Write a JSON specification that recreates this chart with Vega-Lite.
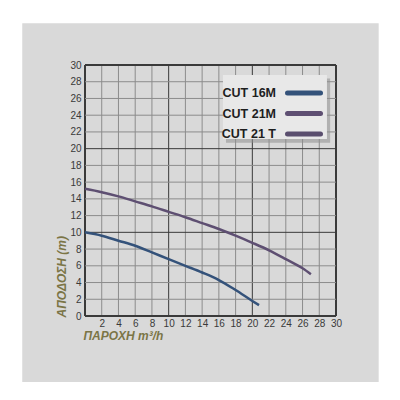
{
  "$schema": "https://vega.github.io/schema/vega-lite/v6.json",
  "width": 251,
  "height": 251,
  "autosize": {"type": "none"},
  "padding": {"left": 85, "top": 65, "right": 64, "bottom": 84},
  "background": "white",
  "datasets": {
    "grid": [
      {"v": 0}, {"v": 2}, {"v": 4}, {"v": 6}, {"v": 8}, {"v": 10}, {"v": 12}, {"v": 14},
      {"v": 16}, {"v": 18}, {"v": 20}, {"v": 22}, {"v": 24}, {"v": 26}, {"v": 28}, {"v": 30}
    ],
    "curves": [
      {"model": "CUT 16M", "q": 0, "h": 10.0},
      {"model": "CUT 16M", "q": 2, "h": 9.6},
      {"model": "CUT 16M", "q": 4, "h": 9.0},
      {"model": "CUT 16M", "q": 6, "h": 8.4},
      {"model": "CUT 16M", "q": 8, "h": 7.6},
      {"model": "CUT 16M", "q": 10, "h": 6.8},
      {"model": "CUT 16M", "q": 12, "h": 6.0},
      {"model": "CUT 16M", "q": 14, "h": 5.2},
      {"model": "CUT 16M", "q": 16, "h": 4.3},
      {"model": "CUT 16M", "q": 18, "h": 3.1},
      {"model": "CUT 16M", "q": 20, "h": 1.8},
      {"model": "CUT 16M", "q": 20.8, "h": 1.3},
      {"model": "CUT 21M", "q": 0, "h": 15.2},
      {"model": "CUT 21M", "q": 2, "h": 14.8},
      {"model": "CUT 21M", "q": 4, "h": 14.3},
      {"model": "CUT 21M", "q": 6, "h": 13.7},
      {"model": "CUT 21M", "q": 8, "h": 13.1},
      {"model": "CUT 21M", "q": 10, "h": 12.45},
      {"model": "CUT 21M", "q": 12, "h": 11.8},
      {"model": "CUT 21M", "q": 14, "h": 11.1},
      {"model": "CUT 21M", "q": 16, "h": 10.4},
      {"model": "CUT 21M", "q": 18, "h": 9.6},
      {"model": "CUT 21M", "q": 20, "h": 8.75},
      {"model": "CUT 21M", "q": 22, "h": 7.85},
      {"model": "CUT 21M", "q": 24, "h": 6.8},
      {"model": "CUT 21M", "q": 26, "h": 5.7},
      {"model": "CUT 21M", "q": 27, "h": 5.0}
    ]
  },
  "layer": [
    {
      "data": {"values": [{}]},
      "mark": {"type": "rect", "fill": "#d9d9d9", "clip": false},
      "encoding": {
        "x": {
          "datum": -7.5,
          "type": "quantitative",
          "scale": {"domain": [0, 30], "nice": false},
          "axis": {
            "values": [2, 4, 6, 8, 10, 12, 14, 16, 18, 20, 22, 24, 26, 28, 30],
            "tickCount": 40,
            "grid": false,
            "domain": false,
            "ticks": false,
            "zindex": 1,
            "labelOverlap": false,
            "labelFlush": false,
            "labelPadding": 2,
            "labelFontSize": 10,
            "encode": {"labels": {"update": {"fontSize": {"signal": "datum.value % 10 == 0 ? 13 : 10"}}}},
            "title": "ΠΑΡΟΧΗ m³/h",
            "titleAnchor": "start",
            "titleAlign": "left",
            "titleX": -2,
            "titleY": 14
          }
        },
        "x2": {"datum": 35.1},
        "y": {
          "datum": 35.0,
          "type": "quantitative",
          "scale": {"domain": [0, 30], "nice": false},
          "axis": {
            "values": [0, 2, 4, 6, 8, 10, 12, 14, 16, 18, 20, 22, 24, 26, 28, 30],
            "tickCount": 40,
            "grid": false,
            "domain": false,
            "ticks": false,
            "zindex": 1,
            "labelOverlap": false,
            "labelFlush": false,
            "labelPadding": 4,
            "labelFontSize": 10,
            "encode": {"labels": {"update": {"fontSize": {"signal": "datum.value % 10 == 0 ? 13 : 10"}}}},
            "title": "ΑΠΟΔΟΣΗ (m)",
            "titleAngle": 270,
            "titleAlign": "left",
            "titleBaseline": "middle",
            "titleX": -24,
            "titleY": 252
          }
        },
        "y2": {"datum": -7.9}
      }
    },
    {
      "data": {"name": "grid"},
      "mark": {"type": "rule"},
      "encoding": {
        "x": {"field": "v", "type": "quantitative"},
        "color": {"condition": {"test": "datum.v % 10 == 0", "value": "#3a3a3a"}, "value": "#8c8c8c"},
        "strokeWidth": {"condition": {"test": "datum.v == 0 || datum.v == 30", "value": 2}, "value": 1}
      }
    },
    {
      "data": {"name": "grid"},
      "mark": {"type": "rule"},
      "encoding": {
        "y": {"field": "v", "type": "quantitative"},
        "color": {"condition": {"test": "datum.v % 10 == 0", "value": "#3a3a3a"}, "value": "#8c8c8c"},
        "strokeWidth": {"condition": {"test": "datum.v == 0 || datum.v == 30", "value": 2}, "value": 1}
      }
    },
    {
      "data": {"values": [{}]},
      "mark": {"type": "rect", "fill": "#8f8f8f", "opacity": 0.55},
      "encoding": {
        "x": {"datum": 16.85, "type": "quantitative"},
        "x2": {"datum": 29.3},
        "y": {"datum": 28.4, "type": "quantitative"},
        "y2": {"datum": 20.7}
      }
    },
    {
      "data": {"values": [{}]},
      "mark": {"type": "rect", "fill": "#e8e8e8"},
      "encoding": {
        "x": {"datum": 16.49, "type": "quantitative"},
        "x2": {"datum": 28.92},
        "y": {"datum": 28.8, "type": "quantitative"},
        "y2": {"datum": 21.15}
      }
    },
    {
      "data": {"name": "curves"},
      "mark": {"type": "line", "interpolate": "monotone", "strokeWidth": 2.5},
      "encoding": {
        "x": {"field": "q", "type": "quantitative"},
        "y": {"field": "h", "type": "quantitative"},
        "color": {
          "field": "model",
          "type": "nominal",
          "scale": {
            "domain": ["CUT 16M", "CUT 21M", "CUT 21 T"],
            "range": ["#34527a", "#5e4f72", "#5a4e6e"]
          },
          "legend": {
            "orient": "none",
            "legendX": 144,
            "legendY": 18,
            "title": null,
            "padding": 0,
            "symbolType": "M-2.2,0H2.2",
            "symbolSize": 225,
            "symbolStrokeWidth": 5,
            "symbolOffset": 65,
            "labelOffset": -38,
            "labelAlign": "right",
            "labelFont": "Liberation Sans",
            "labelFontWeight": "bold",
            "labelFontSize": 12.5,
            "labelColor": "#1e1e1e",
            "rowPadding": 0.5,
            "encode": {"symbols": {"update": {"strokeCap": {"value": "round"}}}}
          }
        }
      }
    }
  ],
  "config": {
    "view": {"stroke": null},
    "axis": {
      "labelOverlap": false,
      "labelFont": "Liberation Sans",
      "labelColor": "#3a3a3a",
      "titleFont": "Liberation Sans",
      "titleFontStyle": "italic",
      "titleFontWeight": "bold",
      "titleFontSize": 12,
      "titleColor": "#7b7546"
    }
  }
}
